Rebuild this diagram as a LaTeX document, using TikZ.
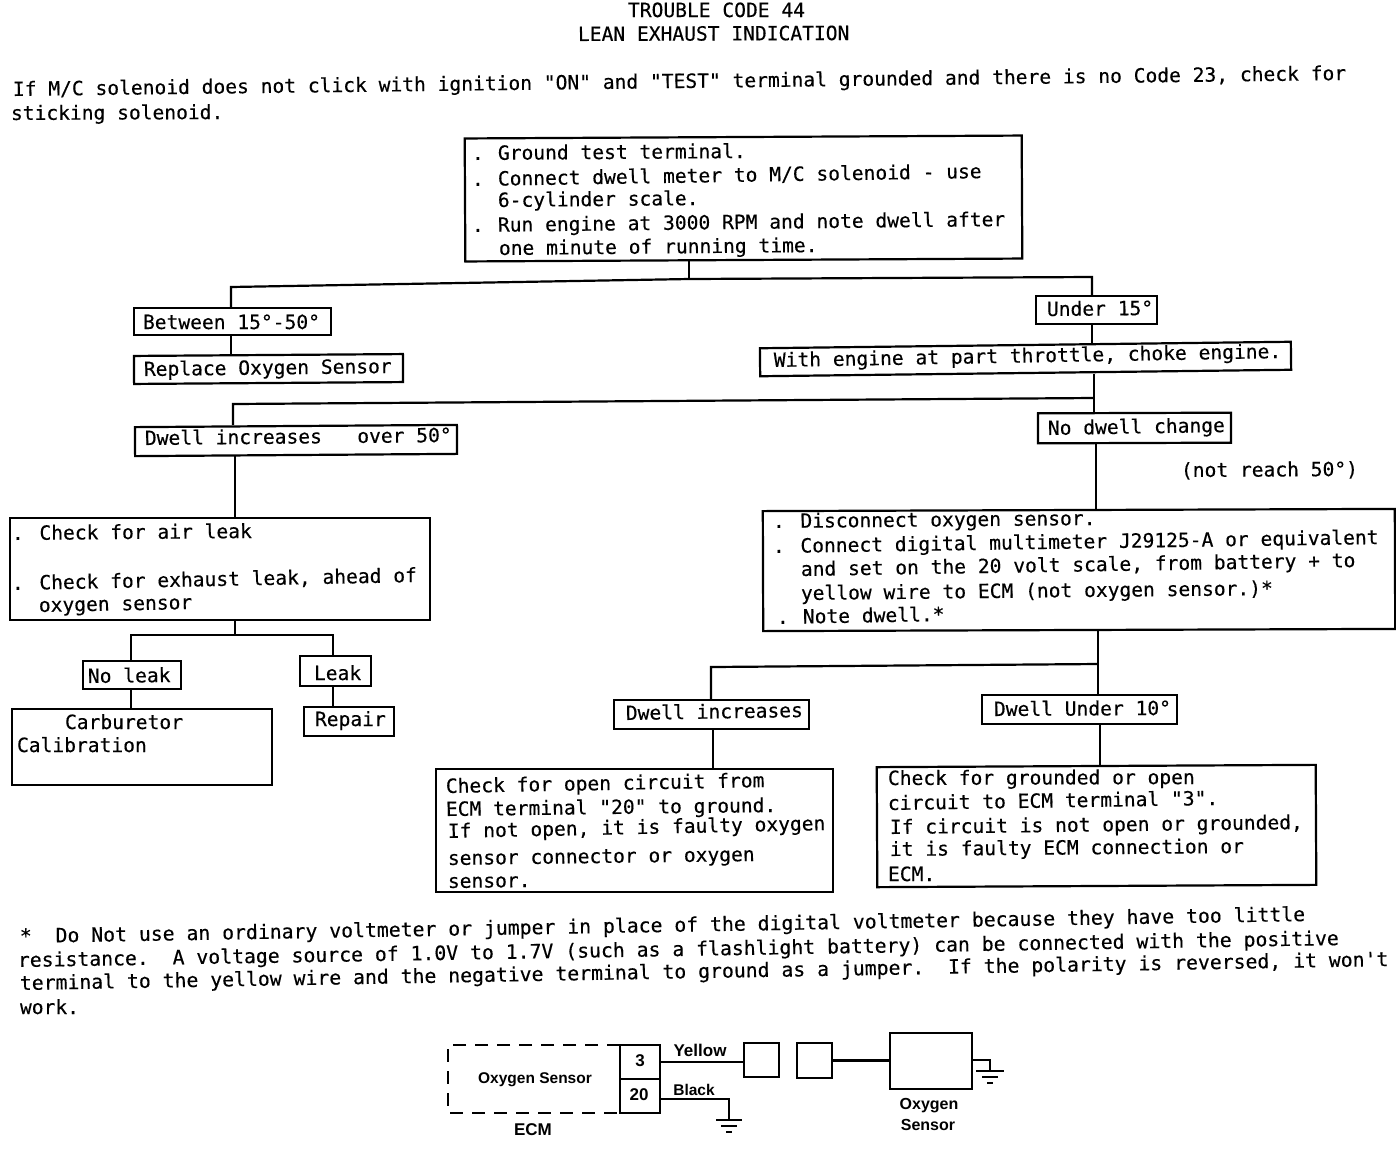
\documentclass[tikz,border=0pt]{standalone}
\usepackage{fontspec}
\newfontfamily\dm{DejaVu Sans Mono}[FakeBold=0.3]
\newfontfamily\lab{Liberation Sans}[Scale=1]
\tikzset{
  txt/.style={anchor=base west,inner sep=0pt,outer sep=0pt,font=\dm\fontsize{19.6}{22}\selectfont},
  boxn/.style={draw=black,line width=2.2pt,inner sep=0pt},
  conn/.style={draw=black,line width=2.2pt},
  lbl/.style={inner sep=0pt,font=\lab\bfseries\fontsize{16}{18}\selectfont},
  lblb/.style={inner sep=0pt,font=\lab\bfseries\fontsize{17}{18}\selectfont},
  lbls/.style={inner sep=0pt,font=\lab\bfseries\fontsize{15.5}{18}\selectfont},
  thin wire/.style={draw=black,line width=2pt},
  thick wire/.style={draw=black,line width=3pt},
  ecm/.style={draw=black,line width=2.4pt,dash pattern=on 13pt off 9pt},
  pinbox/.style={draw=black,line width=2.6pt,inner sep=0pt},
}
\newcommand{\tl}[6]{\pgfmathsetmacro\ang{atan2(#3-#5,#4-#2)}\node[txt,rotate=\ang] (#1) at (#2,#3) {#6};}
\newcommand{\bx}[6]{\pgfmathsetlengthmacro\wid{(#4-#2)*1pt}\pgfmathsetlengthmacro\hei{(#5-#3)*1pt}\node[boxn,minimum width=\wid,minimum height=\hei,rotate=#6] (#1) at ({(#2+#4)/2},{(#3+#5)/2}) {};}
\newcommand{\pb}[5]{\pgfmathsetlengthmacro\wid{(#4-#2)*1pt}\pgfmathsetlengthmacro\hei{(#5-#3)*1pt}\node[pinbox,minimum width=\wid,minimum height=\hei] (#1) at ({(#2+#4)/2},{(#3+#5)/2}) {};}
\newcommand{\dt}{.\kern2.4pt\ }
\newcommand{\fnt}{\fontsize{19.77}{22}\selectfont}
\begin{document}
\begin{tikzpicture}[x=1pt,y=-1pt]
\useasboundingbox (0,0) rectangle (1396,1152);
\fill[white] (0,0) rectangle (1396,1152);
% header
\tl{h1}{628}{17}{804}{17}{TROUBLE CODE 44}
\tl{h2}{578}{41}{853}{40}{LEAN EXHAUST INDICATION}
\tl{i1}{13}{96}{1348}{80}{If M/C solenoid does not click with ignition "ON" and "TEST" terminal grounded and there is no Code 23, check for}
\tl{i2}{11}{120}{223}{119}{sticking solenoid.}
% boxes
\bx{main}{465}{137}{1022}{260}{0.3}
\bx{betw}{134}{308}{331}{335}{0}
\bx{repl}{134}{355}{403}{383}{0.4}
\bx{over}{135}{426}{457}{455}{0.4}
\bx{under}{1036}{296}{1157}{324}{0}
\bx{engine}{760}{345}{1291}{373}{0.7}
\bx{nochg}{1038}{413}{1231}{443}{0.2}
\bx{air}{10}{518}{430}{620}{0}
\bx{noleak}{83}{661}{181}{689}{0}
\bx{leak}{300}{656}{371}{686}{0}
\bx{carb}{12}{709}{272}{785}{0}
\bx{repair}{304}{707}{394}{736}{0}
\bx{disc}{763}{510}{1395}{630}{0.2}
\bx{inc}{614}{700}{809}{729}{0}
\bx{u10}{982}{695}{1177}{724}{0}
\bx{open}{436}{769}{833}{892}{0}
\bx{gnd}{877}{766}{1316}{886}{0.3}
% junctions
\coordinate (j1) at (689,279);
\coordinate (j1l) at (231,287);
\coordinate (j1r) at (1092,277);
\coordinate (j2) at (1094,398);
\coordinate (j2l) at (233,404);
\coordinate (j3) at (235,635);
\coordinate (j3l) at (131,635);
\coordinate (j3r) at (333,635);
\coordinate (j4) at (1098,664);
\coordinate (j4l) at (711,667);
% connectors
\draw[conn] (main.south -| j1) -- (j1);
\draw[conn] (betw.north -| j1l) -- (j1l) -- (j1) -- (j1r) -- (under.north -| j1r);
\draw[conn] (betw.south -| j1l) -- (repl.north -| j1l);
\draw[conn] (under.south -| j1r) -- (engine.north -| j1r);
\draw[conn] (engine.south -| j2) -- (j2) -- (nochg.north -| j2);
\draw[conn] (j2) -- (j2l) -- (over.north -| j2l);
\draw[conn] (over.south -| j3) -- (air.north -| j3);
\draw[conn] (nochg.south -| 1096,0) -- (disc.north -| 1096,0);
\draw[conn] (air.south -| j3) -- (j3);
\draw[conn] (noleak.north -| j3l) -- (j3l) -- (j3r) -- (leak.north -| j3r);
\draw[conn] (noleak.south -| j3l) -- (carb.north -| j3l);
\draw[conn] (leak.south -| j3r) -- (repair.north -| j3r);
\draw[conn] (disc.south -| j4) -- (j4) -- (u10.north -| j4);
\draw[conn] (j4) -- (j4l) -- (inc.north -| j4l);
\draw[conn] (inc.south -| 713,0) -- (open.north -| 713,0);
\draw[conn] (u10.south -| 1100,0) -- (gnd.north -| 1100,0);
% main text
\tl{m1}{472}{160}{745}{158}{\dt Ground test terminal.}
\tl{m2}{472}{186}{985}{178}{\dt Connect dwell meter to M/C solenoid - use}
\tl{m3}{498}{207}{700}{205}{6-cylinder scale.}
\tl{m4}{472}{232}{1008}{226}{\dt Run engine at 3000 RPM and note dwell after}
\tl{m5}{499}{255}{818}{252}{one minute of running time.}
\tl{b1}{143}{329}{320}{329}{Between 15°-50°}
\tl{b2}{144}{376}{392}{373}{Replace Oxygen Sensor}
\tl{b3}{145}{445}{452}{442}{Dwell increases\ \ \ over 50°}
\tl{r1}{1047}{316}{1152}{315}{Under 15°}
\tl{r2}{774}{367}{1282}{358}{With engine at part throttle, choke engine.}
\tl{r3}{1048}{435}{1225}{432}{No dwell change}
\tl{r4}{1181}{477}{1355}{476}{(not reach 50°)}
\tl{a1}{12}{540}{250}{538}{. Check for air leak}
\tl{a2}{12}{590}{418}{582}{. Check for exhaust leak, ahead of}
\tl{a3}{39}{612}{192}{609}{oxygen sensor}
\tl{a4}{88}{683}{171}{682}{No leak}
\tl{a5}{314}{680}{360}{680}{Leak}
\tl{a6}{65}{729}{183}{729}{Carburetor}
\tl{a7}{17}{752}{147}{752}{Calibration}
\tl{a8}{315}{726}{386}{726}{Repair}
\tl{d1}{773}{528}{1095}{525}{. Disconnect oxygen sensor.}
\tl{d2}{773}{553}{1381}{544}{. Connect digital multimeter J29125-A or equivalent}
\tl{d3}{801}{576}{1360}{567}{and set on the 20 volt scale, from battery + to}
\tl{d4}{801}{600}{1276}{595}{yellow wire to ECM (not oxygen sensor.)*}
\tl{d5}{777}{624}{945}{621}{\dt Note dwell.*}
\tl{e1}{626}{720}{802}{717}{Dwell increases}
\tl{e2}{994}{716}{1168}{715}{Dwell Under 10°}
\tl{o1}{446}{793}{769}{787}{Check for open circuit from}
\tl{o2}{446}{816}{778}{812}{ECM terminal "20" to ground.}
\tl{o3}{448}{838}{828}{830}{If not open, it is faulty oxygen}
\tl{o4}{448}{865}{757}{861}{sensor connector or oxygen}
\tl{o5}{448}{888}{530}{887}{sensor.}
\tl{g1}{888}{785}{1195}{784}{Check for grounded or open}
\tl{g2}{888}{810}{1218}{805}{circuit to ECM terminal "3".}
\tl{g3}{890}{834}{1303}{829}{If circuit is not open or grounded,}
\tl{g4}{890}{856}{1243}{853}{it is faulty ECM connection or}
\tl{g5}{888}{881}{935}{881}{ECM.}
% footnote
\tl{f1}{20}{943}{1306}{921}{\fnt *\ \ Do Not use an ordinary voltmeter or jumper in place of the digital voltmeter because they have too little}
\tl{f2}{18}{967}{1340}{945}{\fnt resistance.\ \ A voltage source of 1.0V to 1.7V (such as a flashlight battery) can be connected with the positive}
\tl{f3}{20}{990}{1388}{966}{\fnt terminal to the yellow wire and the negative terminal to ground as a jumper.\ \ If the polarity is reversed, it won't}
\tl{f4}{20}{1014}{78}{1014}{work.}
% schematic
\coordinate (ecmtl) at (620,1045);
\coordinate (ecmbl) at (620,1113);
\draw[ecm] (ecmtl) -- (448,1045) -- (448,1113) -- (ecmbl);
\pb{p3}{620}{1045}{660}{1079}
\pb{p20}{620}{1079}{660}{1113}
\pb{c1}{744}{1043}{779}{1077}
\pb{c2}{797}{1043}{832}{1078}
\pb{sens}{890}{1033}{972}{1089}
\coordinate (gl) at (729,1099);
\coordinate (gl0) at (729,1120);
\coordinate (gr) at (990,1060);
\coordinate (gr0) at (990,1071);
\draw[thin wire] (p3.east |- 660,1062) -- (c1.west |- 660,1062);
\draw[thick wire] (c2.east |- 0,1060) -- (sens.west |- 0,1060);
\draw[thin wire] (p20.east |- gl) -- (gl) -- (gl0);
\draw[thin wire] (sens.east |- gr) -- (gr) -- (gr0);
\draw[thin wire] ([xshift=-13pt]gl0) -- ([xshift=13pt]gl0);
\draw[thin wire] ([xshift=-8pt,yshift=-6pt]gl0) -- ([xshift=8pt,yshift=-6pt]gl0);
\draw[thin wire] ([xshift=-3pt,yshift=-12pt]gl0) -- ([xshift=3pt,yshift=-12pt]gl0);
\draw[thin wire] ([xshift=-14pt]gr0) -- ([xshift=14pt]gr0);
\draw[thin wire] ([xshift=-8pt,yshift=-6pt]gr0) -- ([xshift=8pt,yshift=-6pt]gr0);
\draw[thin wire] ([xshift=-3pt,yshift=-12pt]gr0) -- ([xshift=3pt,yshift=-12pt]gr0);
\node[lblb] (n3) at (640,1061) {3};
\node[lblb] (n20) at (639,1095) {20};
\node[lblb] (ly) at (700,1050) {Yellow};
\node[lbls] (lb) at (694,1090) {Black};
\node[lbls] (lo) at (535,1080) {Oxygen Sensor};
\node[lblb] (le) at (533,1130) {ECM};
\node[lbl] (l1) at (929,1106) {Oxygen};
\node[lbl] (l2) at (928,1125) {Sensor};
\end{tikzpicture}
\end{document}
